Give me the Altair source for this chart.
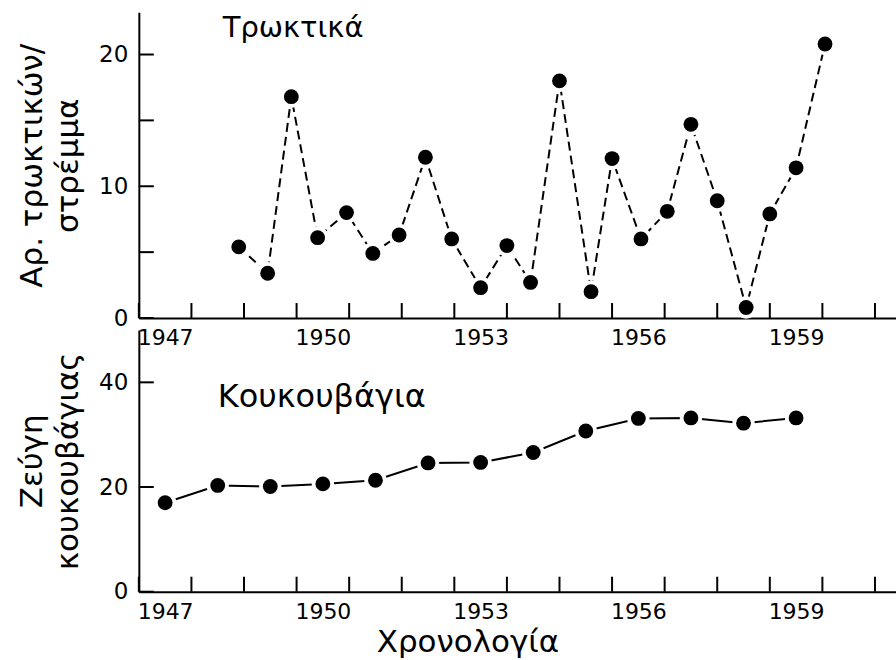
import altair as alt
import pandas as pd

# Rodent density, censused twice a year (decimal year, animals per stremma)
rodent_time = [1948.9, 1949.45, 1949.9, 1950.4, 1950.95, 1951.45, 1951.95, 1952.45,
               1952.95, 1953.5, 1954.0, 1954.45, 1955.0, 1955.6, 1956.0, 1956.55,
               1957.05, 1957.5, 1958.0, 1958.55, 1959.0, 1959.5, 1960.05]
rodent_density = [5.4, 3.4, 16.8, 6.1, 8.0, 4.9, 6.3, 12.2, 6.0, 2.3, 5.5, 2.7,
                  18.0, 2.0, 12.1, 6.0, 8.1, 14.7, 8.9, 0.8, 7.9, 11.4, 20.8]

# Breeding owl pairs, one count per year
owl_time = [1947.5, 1948.5, 1949.5, 1950.5, 1951.5, 1952.5, 1953.5,
            1954.5, 1955.5, 1956.5, 1957.5, 1958.5, 1959.5]
owl_pairs = [17.0, 20.3, 20.1, 20.6, 21.3, 24.6, 24.7, 26.6, 30.7, 33.1, 33.2, 32.2, 33.2]

# Axis furniture
year_ticks = list(range(1947, 1962))
year_label_pos = [1947.5, 1950.5, 1953.5, 1956.5, 1959.5]
rodent_y_ticks = [0, 5, 10, 15, 20]
rodent_y_labels = [0, 10, 20]
owl_y_ticks = [0, 20, 40]
owl_y_labels = [0, 20, 40]

FONT = "DejaVu Sans"
X_DOMAIN = [1947, 1961.4]
WIDTH = 758
TICK_LEN = 15


def panel(times, values, y_max, height, y_ticks, y_labels, y_title,
          x_title, dashed, name, name_size, name_x, name_y):
    x_scale = alt.Scale(domain=X_DOMAIN, nice=False, zero=False)
    y_scale = alt.Scale(domain=[0, y_max], nice=False)

    x_axis_kw = dict(
        values=year_label_pos, labelExpr="'' + floor(datum.value)",
        ticks=False, grid=False, labelFlush=False, labelOverlap=False,
        labelPadding=10, labelFontSize=22,
    )
    if x_title:
        x_axis = alt.Axis(title=x_title, titleX=329, titlePadding=5,
                          titleFontSize=31, **x_axis_kw)
    else:
        x_axis = alt.Axis(title=None, **x_axis_kw)
    y_axis = alt.Axis(values=y_labels, ticks=False, grid=False,
                      labelPadding=11, labelFontSize=23,
                      title=y_title, titleFontSize=31, titleLineHeight=36,
                      titlePadding=14)

    X = alt.X("t:Q", scale=x_scale, axis=x_axis)
    Y = alt.Y("v:Q", scale=y_scale, axis=y_axis)

    df = pd.DataFrame({"t": times, "v": values})
    base = alt.Chart(df)

    line_kw = dict(color="black", strokeWidth=2)
    if dashed:
        line_kw["strokeDash"] = [9, 5]
    line = base.mark_line(**line_kw).encode(x=X, y=Y)
    halo = base.mark_point(filled=True, color="white", size=500, opacity=1).encode(x=X, y=Y)
    dots = base.mark_point(filled=True, color="black", size=220, opacity=1).encode(x=X, y=Y)

    xt = alt.Chart(pd.DataFrame({"t": year_ticks})).mark_rule(
        color="black", strokeWidth=2
    ).encode(x=X, y=alt.value(height), y2=alt.value(height - TICK_LEN))

    yt = alt.Chart(pd.DataFrame({"v": y_ticks})).mark_rule(
        color="black", strokeWidth=2
    ).encode(y=Y, x=alt.value(0), x2=alt.value(TICK_LEN))

    label = alt.Chart(pd.DataFrame({"n": [name]})).mark_text(
        align="left", baseline="alphabetic", fontSize=name_size, font=FONT, color="black"
    ).encode(text="n:N", x=alt.value(name_x), y=alt.value(name_y))

    return alt.layer(line, halo, dots, xt, yt, label).properties(
        width=WIDTH, height=height
    )


top = panel(rodent_time, rodent_density, 23.2, 306, rodent_y_ticks, rodent_y_labels,
            ["Αρ. τρωκτικών/", "στρέμμα"], None, True, "Τρωκτικά", 29, 84, 25)
bottom = panel(owl_time, owl_pairs, 50, 262, owl_y_ticks, owl_y_labels,
               ["Ζεύγη", "κουκουβάγιας"], "Χρονολογία", False, "Κουκουβάγια", 32, 79, 77)

chart = alt.vconcat(top, bottom, spacing=12, bounds="flush").properties(
    padding={"left": 16, "top": 12, "right": 0, "bottom": 2},
    background="white",
).configure_view(strokeWidth=0).configure_axis(
    domainColor="black", domainWidth=2, labelColor="black", titleColor="black",
    labelFont=FONT, titleFont=FONT, titleFontWeight="normal",
)

chart.save("out.html", embed_options={"renderer": "svg", "actions": False})
